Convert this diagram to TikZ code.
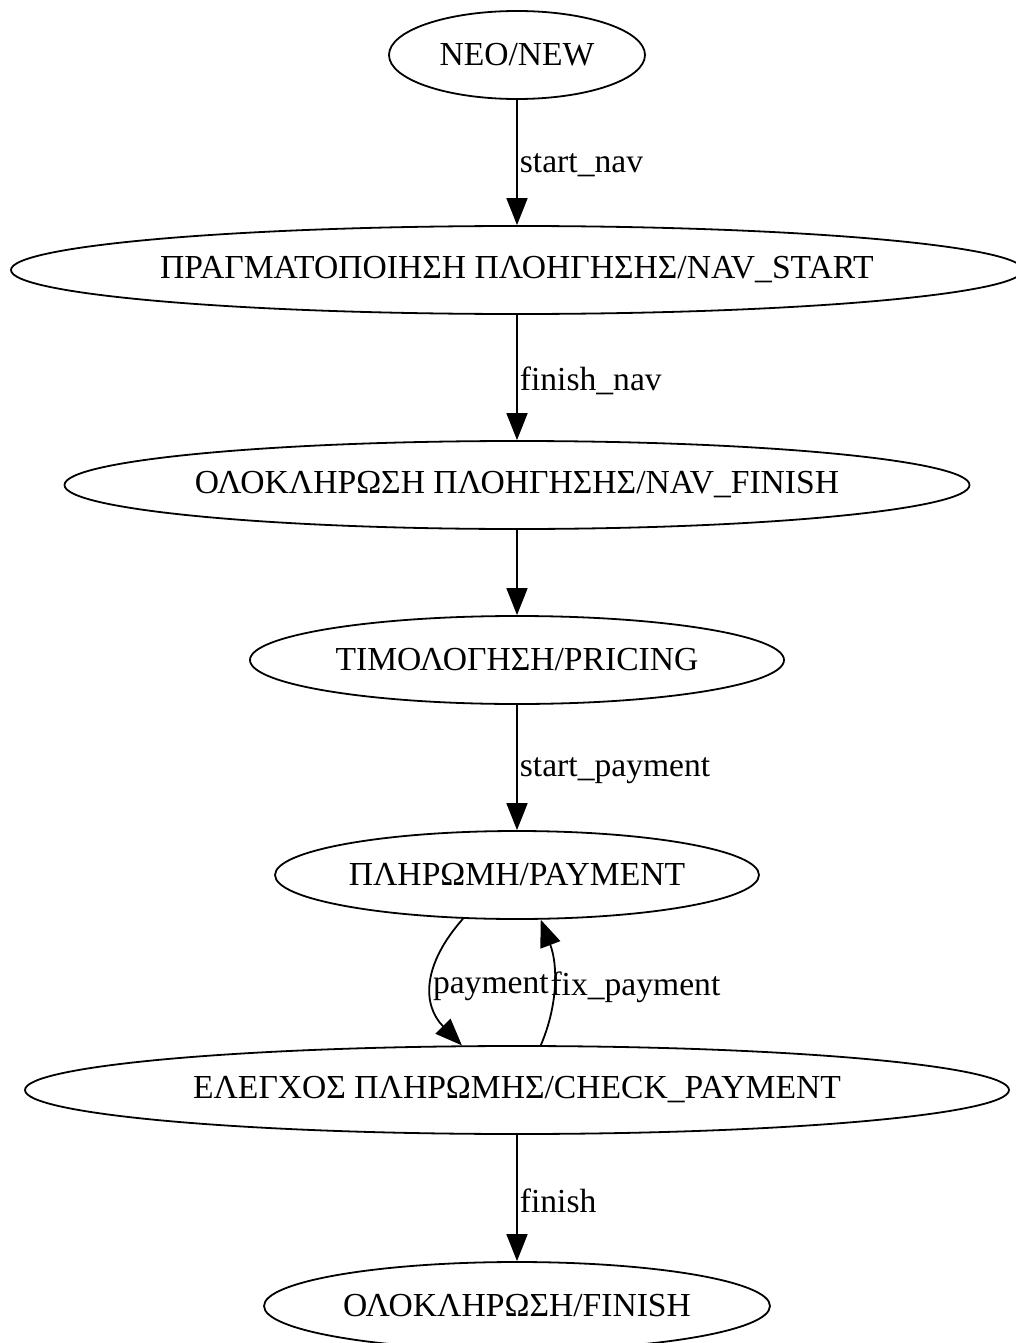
\documentclass[tikz,border=0pt]{standalone}
\usepackage{fontspec}
\setmainfont{Liberation Serif}
\usetikzlibrary{arrows.meta}
\usetikzlibrary{shapes.geometric}
\usetikzlibrary{positioning}

\begin{document}
\begin{tikzpicture}[x=1pt,y=-1pt,line width=1.8pt,
		every node/.style={font=\fontsize{33.6}{40}\selectfont},
		state/.style={draw,ellipse,inner xsep=-8pt,inner ysep=0pt,minimum height=88pt},
		trans/.style={-{Triangle[length=27pt,width=21pt]}},
		lbl/.style={inner sep=0pt,anchor=west,xshift=2pt,yshift=-3pt}]
	\useasboundingbox (0,0) rectangle (1016,1343);
	
	% States, top to bottom.
	\node[state,minimum width=256pt] (new) at (517,55) {ΝΕΟ/NEW};
	\node[state,minimum width=1012pt] (navstart) at (517,270) {ΠΡΑΓΜΑΤΟΠΟΙΗΣΗ ΠΛΟΗΓΗΣΗΣ/NAV\_START};
	\node[state,minimum width=905pt] (navfinish) at (517,485) {ΟΛΟΚΛΗΡΩΣΗ ΠΛΟΗΓΗΣΗΣ/NAV\_FINISH};
	\node[state,minimum width=534pt] (pricing) at (517,660) {ΤΙΜΟΛΟΓΗΣΗ/PRICING};
	\node[state,minimum width=484pt] (payment) at (517,875) {ΠΛΗΡΩΜΗ/PAYMENT};
	\node[state,minimum width=984pt] (check) at (517,1090) {ΕΛΕΓΧΟΣ ΠΛΗΡΩΜΗΣ/CHECK\_PAYMENT};
	\node[state,minimum width=506pt] (finish) at (517,1306) {ΟΛΟΚΛΗΡΩΣΗ/FINISH};
	
	% Straight transitions.
	\draw[trans] (new) -- node[lbl] (lstartnav) {start\_nav} (navstart);
	\draw[trans] (navstart) -- node[lbl] (lfinishnav) {finish\_nav} (navfinish);
	\draw[trans] (navfinish) -- (pricing);
	\draw[trans] (pricing) -- node[lbl] (lstartpay) {start\_payment} (payment);
	\draw[trans] (check) -- node[lbl] (lfinish) {finish} (finish);
	
	% Loop between payment and check.
	\draw[trans] (payment.219) .. controls (422,965) and (422,1005) .. node[midway,inner sep=0pt,anchor=west,yshift=-3pt] (lpay) {payment} (check.141);
	\draw[trans] (check.62) .. controls (558,1005) and (558,965) .. (payment.298);
	\node[inner sep=0pt,right=0pt of lpay] (lfixpay) {fix\_payment};
	
\end{tikzpicture}
\end{document}
